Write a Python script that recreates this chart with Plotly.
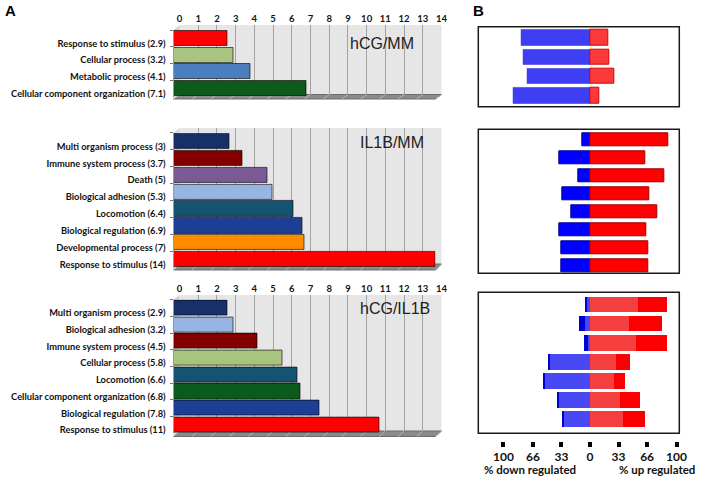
import plotly.graph_objects as go

# ---------------- data ----------------
top_cats = ["Response to stimulus (2.9)", "Cellular process (3.2)",
            "Metabolic process (4.1)", "Cellular component organization (7.1)"]
top_vals = [2.9, 3.2, 4.1, 7.1]

mid_cats = ["Multi organism process (3)", "Immune system process (3.7)", "Death (5)",
            "Biological adhesion (5.3)", "Locomotion (6.4)", "Biological regulation (6.9)",
            "Developmental process (7)", "Response to stimulus (14)"]
mid_vals = [3, 3.7, 5, 5.3, 6.4, 6.9, 7, 14]

bot_cats = ["Multi organism process (2.9)", "Biological adhesion (3.2)",
            "Immune system process (4.5)", "Cellular process (5.8)", "Locomotion (6.6)",
            "Cellular component organization (6.8)", "Biological regulation (7.8)",
            "Response to stimulus (11)"]
bot_vals = [2.9, 3.2, 4.5, 5.8, 6.6, 6.8, 7.8, 11]

panel_titles = ["hCG/MM", "IL1B/MM", "hCG/IL1B"]
x_ticks_a = list(range(0, 15))

# panel B: % down / % up regulated
b_top_down = [79, 77, 72, 89]
b_top_up = [21, 22, 28, 11]
b_mid_down = [9, 36, 14, 32, 22, 35, 33, 33]
b_mid_up = [91, 64, 86, 68, 78, 65, 67, 67]
b_bot_down_inner = [4, 6, 1.5, 46, 52.5, 36, 30]
b_bot_down_outer = [1, 6.5, 5, 1.5, 1.5, 1.5, 1.5]
b_bot_up_inner = [56, 45.5, 53, 30, 28, 35, 38]
b_bot_up_outer = [33.5, 37.5, 36, 17, 13, 23, 26]
b_tickvals = [-100, -66, -33, 0, 33, 66, 100]
b_ticktext = ["100", "66", "33", "0", "33", "66", "100"]

# ---------------- styles ----------------
C = {
    "Response to stimulus": "#ff0000",
    "Cellular process": "#a9c47f",
    "Metabolic process": "#4a7ebf",
    "Cellular component organization": "#0c5a1c",
    "Multi organism process": "#17306a",
    "Immune system process": "#840000",
    "Death": "#7a5b96",
    "Biological adhesion": "#97b5e2",
    "Locomotion": "#145472",
    "Biological regulation": "#1c3e93",
    "Developmental process": "#ff8c00",
}


def col(label):
    return C[label.rsplit(" (", 1)[0]]


W, H = 701, 480


def fx(p):
    return p / W


def fy(p):
    return 1 - p / H


NARROW = "Lato, Liberation Sans, sans-serif"
BOLDF = "Lato, Liberation Sans, sans-serif"

FRONT_X = (173.5, 435.5)
WALL_X = (179.5, 441.5)
A_GEOM = [
    dict(rows=(30, 96.7), wall=(25, 94.5), floor=99, title=(382, 43)),
    dict(rows=(132.9, 268.1), wall=(128, 264), floor=270, title=(392, 143)),
    dict(rows=(299.6, 433.4), wall=(295, 431), floor=436.5, title=(395, 308)),
]
A_DATA = [(top_cats, top_vals), (mid_cats, mid_vals), (bot_cats, bot_vals)]

B_X = (478.3, 679.3)
B_RANGE = [-129.1, 103.2]
B_GEOM = [
    dict(box=(26.7, 106.7), yr=[3.57, -0.57], w=0.81),
    dict(box=(129.3, 273.3), yr=[7.42, -0.6], w=0.74),
    dict(box=(292.3, 433.3), yr=[6.73, -0.67], w=0.8),
]

fig = go.Figure()
layout = dict(width=W, height=H, margin=dict(l=0, r=0, t=0, b=0, autoexpand=False),
              paper_bgcolor="white", plot_bgcolor="rgba(0,0,0,0)",
              barmode="relative", showlegend=False, bargap=0)
shapes = []
annotations = []


def ax(n):
    return ("" if n == 1 else str(n))


# walls (subplots 1-3)
for i, g in enumerate(A_GEOM):
    n = i + 1
    s = ax(n)
    layout["xaxis" + s] = dict(domain=[fx(WALL_X[0]), fx(WALL_X[1])], range=[0, 14],
                               anchor="y" + s, showgrid=True, gridcolor="#a3a3a3",
                               gridwidth=1, tickvals=x_ticks_a, zeroline=False,
                               showline=False, ticks="", side="top", automargin=False,
                               showticklabels=(i != 1), ticklabelstandoff=0,
                               tickfont=dict(family=NARROW, size=9.5, color="#111",
                                             weight="bold"), fixedrange=True)
    layout["yaxis" + s] = dict(domain=[fy(g["wall"][1]), fy(g["wall"][0])], range=[0, 1],
                               anchor="x" + s, visible=False, fixedrange=True,
                               automargin=False)
    fig.add_trace(go.Scatter(x=[], y=[], xaxis="x" + s, yaxis="y" + s,
                             hoverinfo="skip", showlegend=False))
    # wall background
    shapes.append(dict(type="rect", xref="paper", yref="paper", layer="below",
                       x0=fx(WALL_X[0]), x1=fx(WALL_X[1]),
                       y0=fy(g["wall"][1]), y1=fy(g["wall"][0]),
                       fillcolor="#e6e6e6", line=dict(width=0)))
    # floor
    path = "M {} {} L {} {} L {} {} L {} {} Z".format(
        fx(FRONT_X[0]), fy(g["floor"]), fx(FRONT_X[1]), fy(g["floor"]),
        fx(WALL_X[1]), fy(g["wall"][1]), fx(WALL_X[0]), fy(g["wall"][1]))
    shapes.append(dict(type="path", xref="paper", yref="paper", layer="below", path=path,
                       fillcolor="#8a8a8a", line=dict(color="#6d6d6d", width=1)))
    for v in x_ticks_a:
        bx = WALL_X[0] + v * (WALL_X[1] - WALL_X[0]) / 14
        fxx = FRONT_X[0] + v * (FRONT_X[1] - FRONT_X[0]) / 14
        shapes.append(dict(type="line", xref="paper", yref="paper", layer="below",
                           x0=fx(bx), y0=fy(g["wall"][1]), x1=fx(fxx), y1=fy(g["floor"]),
                           line=dict(color="#b5b5b5", width=1)))
    # left wall edge
    shapes.append(dict(type="path", xref="paper", yref="paper", layer="below",
                       path="M {} {} L {} {} L {} {} L {} {} Z".format(
                           fx(FRONT_X[0]), fy(g["floor"]), fx(FRONT_X[0]), fy(g["rows"][0]),
                           fx(WALL_X[0]), fy(g["wall"][0]), fx(WALL_X[0]), fy(g["wall"][1])),
                       fillcolor="#d4d4d4", line=dict(width=0)))
    annotations.append(dict(text=panel_titles[i], xref="paper", yref="paper",
                            x=fx(g["title"][0]), y=fy(g["title"][1]), showarrow=False,
                            xanchor="center", yanchor="middle",
                            font=dict(family="Liberation Sans, Arial", size=16, color="#222")))

# bars A (subplots 4-6)
for i, g in enumerate(A_GEOM):
    n = i + 4
    s = ax(n)
    cats, vals = A_DATA[i]
    layout["xaxis" + s] = dict(domain=[fx(FRONT_X[0]), fx(FRONT_X[1])], range=[0, 14],
                               anchor="y" + s, visible=False, fixedrange=True,
                               automargin=False)
    layout["yaxis" + s] = dict(domain=[fy(g["rows"][1]), fy(g["rows"][0])],
                               type="category", categoryorder="array", categoryarray=cats,
                               autorange="reversed", anchor="x" + s, automargin=False,
                               ticks="outside", tickson="boundaries", ticklen=3,
                               tickcolor="#777", showline=True, linecolor="#999",
                               showgrid=False, ticklabelstandoff=5, ticklabelshift=-5,
                               tickfont=dict(family=NARROW, size=9.3, color="#111",
                                             weight="bold"), fixedrange=True)
    fig.add_trace(go.Bar(x=vals, y=cats, orientation="h", width=0.9,
                         marker=dict(color=[col(c) for c in cats],
                                     line=dict(color="rgba(0,0,0,0.6)", width=1)),
                         xaxis="x" + s, yaxis="y" + s, hoverinfo="x+y"))

# panel B (subplots 7-9)
for i, g in enumerate(B_GEOM):
    n = i + 7
    s = ax(n)
    xa = dict(domain=[fx(B_X[0]), fx(B_X[1])], range=B_RANGE, anchor="y" + s,
              showgrid=False, zeroline=False, showline=False, fixedrange=True,
              automargin=False)
    if i == 2:
        xa.update(anchor="free", position=fy(441), ticks="outside", ticklen=5,
                  tickwidth=3.5, tickcolor="black", tickvals=b_tickvals,
                  ticktext=b_ticktext, ticklabelstandoff=0,
                  tickfont=dict(family=BOLDF, size=12, color="#111", weight="bold"))
    else:
        xa.update(visible=False)
    layout["xaxis" + s] = xa
    layout["yaxis" + s] = dict(domain=[fy(g["box"][1]), fy(g["box"][0])], range=g["yr"],
                               anchor="x" + s, visible=False, fixedrange=True,
                               automargin=False)
    shapes.append(dict(type="rect", xref="x" + s + " domain", yref="y" + s + " domain",
                       x0=0, x1=1, y0=0, y1=1, layer="above",
                       line=dict(color="#1a1a1a", width=1.5)))

idx_t = list(range(len(b_top_down)))
fig.add_trace(go.Bar(x=[-v for v in b_top_down], y=idx_t, orientation="h", width=B_GEOM[0]["w"],
                     marker=dict(color="rgb(62,62,242)", line=dict(color="rgb(40,40,220)", width=0.5)),
                     xaxis="x7", yaxis="y7"))
fig.add_trace(go.Bar(x=b_top_up, y=idx_t, orientation="h", width=B_GEOM[0]["w"],
                     marker=dict(color="rgb(250,58,58)", line=dict(color="rgb(215,0,0)", width=1)),
                     xaxis="x7", yaxis="y7"))

idx_m = list(range(len(b_mid_down)))
fig.add_trace(go.Bar(x=[-v for v in b_mid_down], y=idx_m, orientation="h", width=B_GEOM[1]["w"],
                     marker=dict(color="#0000ff", line=dict(color="rgb(0,0,150)", width=1)),
                     xaxis="x8", yaxis="y8"))
fig.add_trace(go.Bar(x=b_mid_up, y=idx_m, orientation="h", width=B_GEOM[1]["w"],
                     marker=dict(color="#ff0000", line=dict(color="rgb(160,0,0)", width=1)),
                     xaxis="x8", yaxis="y8"))

idx_b = list(range(len(b_bot_down_inner)))
for vals, sign, color in [(b_bot_down_inner, -1, "rgb(72,72,245)"),
                          (b_bot_down_outer, -1, "rgb(0,0,210)"),
                          (b_bot_up_inner, 1, "rgb(245,62,62)"),
                          (b_bot_up_outer, 1, "rgb(250,0,0)")]:
    fig.add_trace(go.Bar(x=[sign * v for v in vals], y=idx_b, orientation="h",
                         width=B_GEOM[2]["w"], marker=dict(color=color, line=dict(width=0)),
                         xaxis="x9", yaxis="y9"))

annotations += [
    dict(text="<b>A</b>", x=fx(10), y=fy(10), xref="paper", yref="paper", showarrow=False,
         xanchor="center", yanchor="middle",
         font=dict(family="Liberation Sans, Arial", size=15, color="black")),
    dict(text="<b>B</b>", x=fx(478), y=fy(10), xref="paper", yref="paper", showarrow=False,
         xanchor="center", yanchor="middle",
         font=dict(family="Liberation Sans, Arial", size=15, color="black")),
    dict(text="<b>% down regulated</b>", x=fx(530), y=fy(469), xref="paper", yref="paper",
         showarrow=False, xanchor="center", yanchor="middle",
         font=dict(family=BOLDF, size=11.5, color="#111")),
    dict(text="<b>% up regulated</b>", x=fx(657), y=fy(469), xref="paper", yref="paper",
         showarrow=False, xanchor="center", yanchor="middle",
         font=dict(family=BOLDF, size=11.5, color="#111")),
]

layout["shapes"] = shapes
layout["annotations"] = annotations
fig.update_layout(**layout)
fig.write_html("out.html", config={"displayModeBar": False},
               post_script="document.body.style.margin='0';"
                           "document.body.style.overflow='hidden';")
